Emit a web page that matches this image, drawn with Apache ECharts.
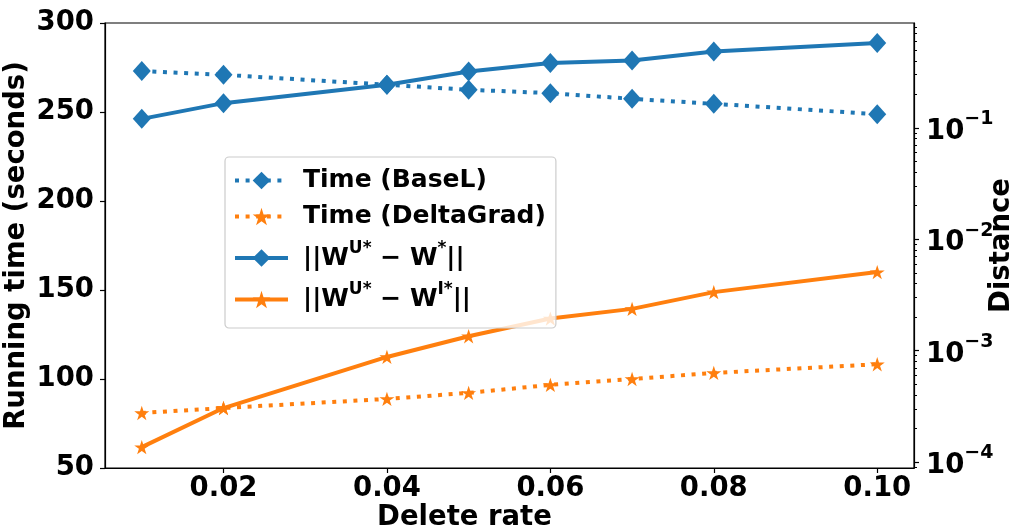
<!DOCTYPE html>
<html>
<head>
<meta charset="utf-8">
<script src="https://cdn.jsdelivr.net/npm/echarts@6/dist/echarts.min.js"></script>
<style>
html,body{margin:0;padding:0;background:#fff;}
#chart{width:1015px;height:531px;}
</style>
</head>
<body>
<div id="chart"></div>
<script>
// ---- data ----
const deleteRates = [0.01, 0.02, 0.04, 0.05, 0.06, 0.07, 0.08, 0.10];
const timeBaseL = [273.0, 270.9, 265.3, 262.5, 260.6, 257.4, 254.6, 248.8];
const timeDeltaGrad = [80.9, 83.7, 88.8, 92.2, 96.7, 100.0, 103.4, 108.3];
const distUvsStar = [0.1205, 0.1667, 0.2438, 0.3206, 0.382, 0.403, 0.485, 0.578];
const distUvsI = [0.000136, 0.000305, 0.000877, 0.001345, 0.00194, 0.00237, 0.00335, 0.00507];
const xTickValues = [0.02, 0.04, 0.06, 0.08, 0.10];
const leftTickValues = [50, 100, 150, 200, 250, 300];
const rightMajorTicks = [1e-4, 1e-3, 1e-2, 1e-1];
const rightMinorTicks = [9e-5, 2e-4, 3e-4, 4e-4, 5e-4, 6e-4, 7e-4, 8e-4, 9e-4,
  2e-3, 3e-3, 4e-3, 5e-3, 6e-3, 7e-3, 8e-3, 9e-3,
  2e-2, 3e-2, 4e-2, 5e-2, 6e-2, 7e-2, 8e-2, 9e-2,
  2e-1, 3e-1, 4e-1, 5e-1, 6e-1, 7e-1, 8e-1];
const seriesNames = ['Time (BaseL)', 'Time (DeltaGrad)', 'dist_u_star', 'dist_u_i'];

const BLUE = '#1f77b4', ORANGE = '#ff7f0e';
const FONT = 'DejaVu Sans';
const STAR = 'path://M100,0 L122.45,69.1 L195.11,69.1 L136.33,111.8 L158.78,180.9 L100,138.2 L41.22,180.9 L63.67,111.8 L4.89,69.1 L77.55,69.1 Z';

function pairs(xs, ys) { return xs.map((x, i) => [x, ys[i]]); }

const chart = echarts.init(document.getElementById('chart'), null, {renderer: 'canvas'});
const axisLineStyle = {color: '#000', width: 1.2};
const dotted = [4, 6.6];

const legendRich = {
  n: {fontSize: 25, fontWeight: 'bold', fontFamily: FONT, color: '#000', lineHeight: 36},
  p: {fontSize: 25, fontWeight: 'bold', fontFamily: FONT, color: '#000', lineHeight: 30},
  s: {fontSize: 17, fontWeight: 'bold', fontFamily: FONT, color: '#000', verticalAlign: 'top', lineHeight: 30}
};

const option = {
  animation: false,
  backgroundColor: '#fff',
  grid: {left: 105, right: 101, top: 23, bottom: 63, show: true, borderColor: '#000', borderWidth: 1.2, outerBoundsMode: 'none'},
  legend: {
    orient: 'vertical', left: 225, top: 157,
    data: [
      {name: seriesNames[0], lineStyle: {width: 4, type: dotted, color: BLUE}},
      {name: seriesNames[1], lineStyle: {width: 4, type: dotted, color: ORANGE}},
      {name: seriesNames[2], lineStyle: {width: 4, type: 'solid', color: BLUE}},
      {name: seriesNames[3], lineStyle: {width: 4, type: 'solid', color: ORANGE}}
    ],
    itemWidth: 53, itemHeight: 22, itemGap: 11,
    padding: [11, 10, 16, 8],
    backgroundColor: 'rgba(255,255,255,0.8)',
    borderColor: '#cccccc', borderWidth: 1.2, borderRadius: 4,
    textStyle: {fontSize: 25, fontWeight: 'bold', fontFamily: FONT, color: '#000', rich: legendRich, padding: [0, 0, 0, 10]},
    formatter: function (name) {
      if (name === 'dist_u_star') return '{n|||W}{s|U*}{n| − W}{s|*}{n|||}';
      if (name === 'dist_u_i') return '{n|||W}{s|U*}{n| − W}{s|I*}{n|||}';
      return '{p|' + name + '}';
    }
  },
  xAxis: {
    type: 'value', min: 0.0055, max: 0.1045,
    name: 'Delete rate', nameLocation: 'middle', nameGap: 36, nameMoveOverlap: false,
    nameTextStyle: {fontSize: 27.5, fontWeight: 'bold', fontFamily: FONT, color: '#000', padding: [0, 90, 0, 0]},
    axisLine: {show: true, lineStyle: axisLineStyle},
    axisTick: {show: true, inside: false, length: 5, lineStyle: axisLineStyle, customValues: xTickValues},
    axisLabel: {fontSize: 27.5, fontWeight: 'bold', fontFamily: FONT, color: '#000', margin: 7,
      customValues: xTickValues, formatter: v => v.toFixed(2)},
    splitLine: {show: false}
  },
  yAxis: [
    {
      type: 'value', min: 50, max: 300, interval: 50, position: 'left',
      name: 'Running time (seconds)', nameLocation: 'middle', nameGap: 74, nameRotate: 90, nameMoveOverlap: false,
      nameTextStyle: {fontSize: 27.5, fontWeight: 'bold', fontFamily: FONT, color: '#000'},
      axisLine: {show: true, lineStyle: axisLineStyle},
      axisTick: {show: true, inside: false, length: 5, lineStyle: axisLineStyle},
      axisLabel: {fontSize: 27.5, fontWeight: 'bold', fontFamily: FONT, color: '#000', margin: 11},
      splitLine: {show: false}
    },
    {
      type: 'log', logBase: 10, min: 8.83e-5, max: 0.874, position: 'right',
      name: 'Distance', nameLocation: 'middle', nameGap: 74, nameRotate: 90, nameMoveOverlap: false,
      nameTextStyle: {fontSize: 27.5, fontWeight: 'bold', fontFamily: FONT, color: '#000'},
      axisLine: {show: true, lineStyle: axisLineStyle},
      axisTick: {show: true, inside: false, length: 5, lineStyle: axisLineStyle, customValues: rightMajorTicks},
      axisLabel: {
        margin: 12, customValues: rightMajorTicks,
        formatter: function (v) {
          const e = Math.round(Math.log10(v));
          return '{b|10}{s|−' + Math.abs(e) + '}';
        },
        rich: {
          b: {fontSize: 27.5, fontWeight: 'bold', fontFamily: FONT, color: '#000', lineHeight: 36, verticalAlign: 'bottom'},
          s: {fontSize: 19, fontWeight: 'bold', fontFamily: FONT, color: '#000', lineHeight: 36, verticalAlign: 'top'}
        }
      },
      splitLine: {show: false}
    },
    {
      type: 'log', logBase: 10, min: 8.83e-5, max: 0.874, position: 'right',
      axisLine: {show: false},
      axisTick: {show: true, inside: false, length: 3, lineStyle: {color: '#000', width: 1}, customValues: rightMinorTicks},
      axisLabel: {show: false},
      splitLine: {show: false}
    }
  ],
  series: [
    {
      name: seriesNames[0], type: 'line', yAxisIndex: 0, z: 2,
      data: pairs(deleteRates, timeBaseL),
      symbol: 'diamond', symbolSize: [18, 20],
      itemStyle: {color: BLUE},
      lineStyle: {color: BLUE, width: 4, type: dotted, cap: 'butt'}
    },
    {
      name: seriesNames[1], type: 'line', yAxisIndex: 0, z: 2,
      data: pairs(deleteRates, timeDeltaGrad),
      symbol: STAR, symbolSize: [15, 14.3],
      itemStyle: {color: ORANGE},
      lineStyle: {color: ORANGE, width: 4, type: dotted, cap: 'butt'}
    },
    {
      name: seriesNames[2], type: 'line', yAxisIndex: 1, z: 3,
      data: pairs(deleteRates, distUvsStar),
      symbol: 'diamond', symbolSize: [18, 20],
      itemStyle: {color: BLUE},
      lineStyle: {color: BLUE, width: 4, type: 'solid'}
    },
    {
      name: seriesNames[3], type: 'line', yAxisIndex: 1, z: 3,
      data: pairs(deleteRates, distUvsI),
      symbol: STAR, symbolSize: [15, 14.3],
      itemStyle: {color: ORANGE},
      lineStyle: {color: ORANGE, width: 4, type: 'solid'}
    }
  ]
};
chart.setOption(option);
</script>
</body>
</html>
